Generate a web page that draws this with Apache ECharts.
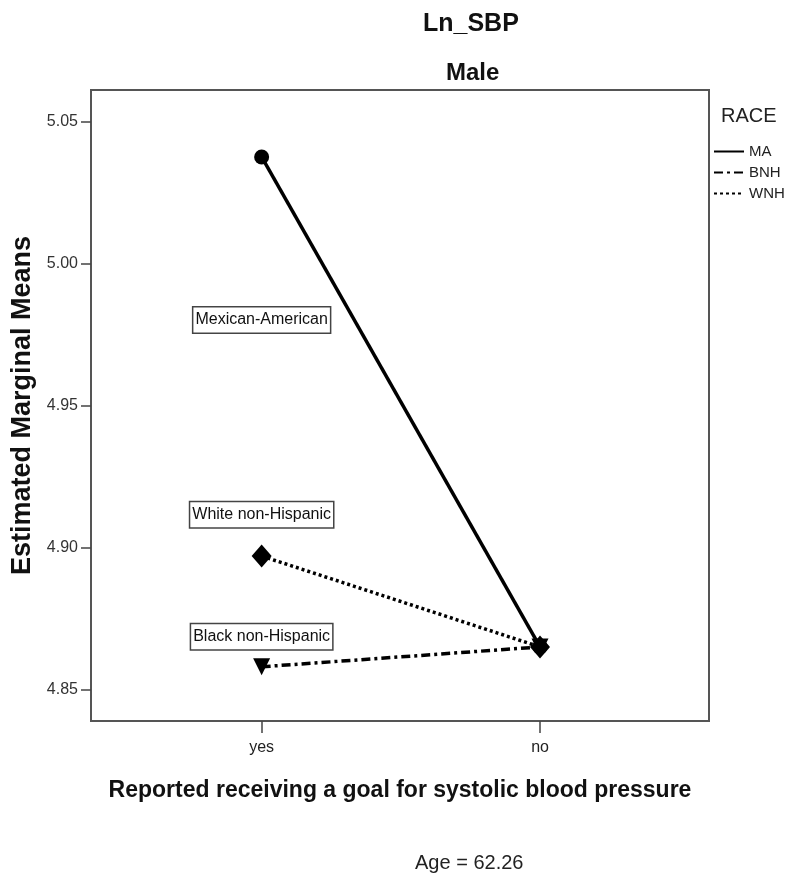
<!DOCTYPE html>
<html>
<head>
<meta charset="utf-8">
<script src="https://cdn.jsdelivr.net/npm/echarts@6/dist/echarts.min.js"></script>
<style>
  html, body { margin: 0; padding: 0; background: #fff; }
  #chart { width: 785px; height: 877px; }
</style>
</head>
<body>
<div id="chart"></div>
<script>
// categories on the x axis (placed at 1 and 2)
const categories = ['yes', 'no']
const raceNames = ['MA', 'BNH', 'WNH']
const raceLabels = ['Mexican-American', 'Black non-Hispanic', 'White non-Hispanic']
// estimated marginal means
const maValues = [5.0376, 4.865]
const bnhValues = [4.858, 4.865]
const wnhValues = [4.897, 4.865]
// where each text box sits (y value, at the "yes" column)
const labelAnchors = [4.9802, 4.8686, 4.9116]
const yTicks = [4.85, 4.90, 4.95, 5.00, 5.05]

const FONT = '"Liberation Sans", Arial, sans-serif'

const chart = echarts.init(document.getElementById('chart'))

const lineTypes = ['solid', [9, 4, 3, 4], [3, 3]]
const symbols = ['circle', 'triangle', 'diamond']
const symbolSizes = [15, 17, [20, 23]]
const allValues = [maValues, bnhValues, wnhValues]

const series = raceNames.map((name, i) => ({
  name: name,
  type: 'line',
  data: allValues[i].map((v, j) => [j + 1, v]),
  symbol: symbols[i],
  symbolSize: symbolSizes[i],
  symbolRotate: i === 1 ? 180 : 0,
  itemStyle: { color: '#000' },
  lineStyle: { color: '#000', width: 3.5, type: lineTypes[i] },
  z: 3 + i,
  markPoint: {
    symbol: 'rect',
    symbolSize: 0,
    data: [{
      coord: [1, labelAnchors[i]],
      label: {
        show: true,
        position: 'inside',
        formatter: raceLabels[i],
        color: '#111',
        fontFamily: FONT,
        fontSize: 16,
        backgroundColor: '#fff',
        borderColor: '#444',
        borderWidth: 1.5,
        padding: [5, 2, 4, 2],
      },
    }],
  },
}))

const option = {
  animation: false,
  backgroundColor: '#fff',
  grid: {
    left: 91,
    right: 76,
    top: 90,
    bottom: 156,
    outerBoundsMode: 'none',
    show: true,
    borderColor: '#555',
    borderWidth: 2,
  },
  legend: {
    orient: 'vertical',
    left: 713,
    top: 144,
    padding: 0,
    itemWidth: 30,
    itemHeight: 13,
    itemGap: 6,
    itemStyle: { opacity: 0 },
    textStyle: { fontFamily: FONT, fontSize: 15, color: '#222' },
    data: raceNames,
  },
  graphic: [
    { type: 'text', left: 423, top: 12, style: { text: 'Ln_SBP', font: 'bold 25px ' + FONT, fill: '#111' } },
    { type: 'text', left: 446, top: 61, style: { text: 'Male', font: 'bold 24px ' + FONT, fill: '#111' } },
    { type: 'text', left: 721, top: 106, style: { text: 'RACE', font: '20px ' + FONT, fill: '#222' } },
    { type: 'text', left: 415, top: 853, style: { text: 'Age = 62.26', font: '20px ' + FONT, fill: '#222' } },
  ],
  xAxis: {
    type: 'value',
    min: 0.387,
    max: 2.607,
    name: 'Reported receiving a goal for systolic blood pressure',
    nameLocation: 'middle',
    nameGap: 58,
    nameTextStyle: { fontFamily: FONT, fontSize: 23, fontWeight: 'bold', color: '#111' },
    splitLine: { show: false },
    axisLine: { show: true, lineStyle: { color: '#555', width: 2 } },
    axisTick: { show: true, length: 12, customValues: [1, 2], lineStyle: { color: '#444', width: 1.5 } },
    axisLabel: {
      customValues: [1, 2],
      formatter: (v) => categories[Math.round(v) - 1],
      margin: 19,
      fontFamily: FONT,
      fontSize: 16,
      color: '#222',
    },
  },
  yAxis: {
    type: 'value',
    min: 4.8389,
    max: 5.0612,
    name: 'Estimated Marginal Means',
    nameLocation: 'middle',
    nameGap: 54,
    nameTextStyle: { fontFamily: FONT, fontSize: 27, fontWeight: 'bold', color: '#111' },
    splitLine: { show: false },
    axisLine: { show: true, lineStyle: { color: '#555', width: 2 } },
    axisTick: { show: true, length: 10, customValues: yTicks, lineStyle: { color: '#444', width: 1.5 } },
    axisLabel: {
      customValues: yTicks,
      formatter: (v) => v.toFixed(2),
      margin: 13,
      fontFamily: FONT,
      fontSize: 16,
      color: '#333',
    },
  },
  series: series,
}

chart.setOption(option)
</script>
</body>
</html>
